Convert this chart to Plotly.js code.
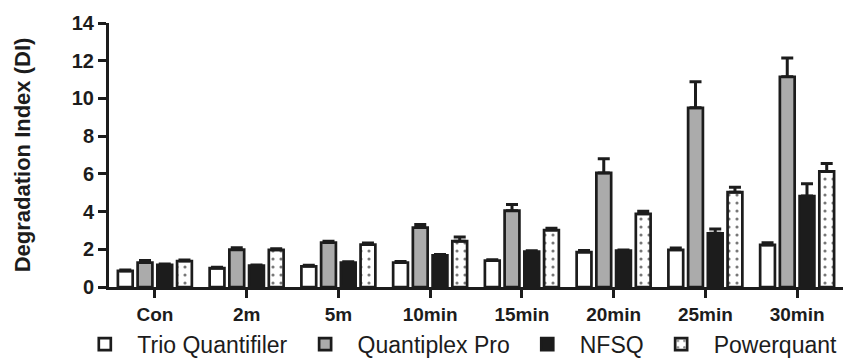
<!DOCTYPE html>
<html>
<head>
<meta charset="utf-8">
<script src="https://cdn.plot.ly/plotly-3.0.1.min.js"></script>
<style>html,body{margin:0;padding:0;background:#fff;}#chart{width:860px;height:358px;}</style>
</head>
<body>
<div id="chart"></div>
<script>
const categories = ["Con", "2m", "5m", "10min", "15min", "20min", "25min", "30min"];
const seriesNames = ["Trio Quantifiler", "Quantiplex Pro", "NFSQ", "Powerquant"];
const trioValues = [0.85, 1.0, 1.1, 1.3, 1.4, 1.85, 1.97, 2.23];
const trioErrors = [0.05, 0.05, 0.05, 0.05, 0.04, 0.08, 0.10, 0.12];
const quantiplexValues = [1.3, 1.98, 2.36, 3.15, 4.05, 6.05, 9.5, 11.15];
const quantiplexErrors = [0.10, 0.10, 0.06, 0.16, 0.32, 0.75, 1.38, 1.0];
const nfsqValues = [1.18, 1.13, 1.3, 1.68, 1.88, 1.93, 2.85, 4.82];
const nfsqErrors = [0.04, 0.04, 0.04, 0.04, 0.04, 0.03, 0.23, 0.65];
const powerquantValues = [1.38, 1.97, 2.25, 2.43, 3.02, 3.88, 5.03, 6.13];
const powerquantErrors = [0.05, 0.06, 0.08, 0.22, 0.10, 0.14, 0.26, 0.42];
const yTickValues = [0, 2, 4, 6, 8, 10, 12, 14];

const ink = '#1c1c1c';
const font = 'Arial, "Liberation Sans", sans-serif';
const zeros = categories.map(() => 0);

function barTrace(name, y, err, marker) {
  return {
    type: 'bar', name: name, x: categories, y: y,
    marker: Object.assign({line: {color: ink, width: 2.7}}, marker),
    error_y: {type: 'data', symmetric: false, array: err, arrayminus: zeros,
              color: ink, thickness: 3, width: 6},
    hoverinfo: 'x+y+name'
  };
}

const data = [
  barTrace(seriesNames[0], trioValues, trioErrors, {color: '#ffffff'}),
  barTrace(seriesNames[1], quantiplexValues, quantiplexErrors, {color: '#ababab'}),
  barTrace(seriesNames[2], nfsqValues, nfsqErrors, {color: '#1c1c1c'}),
  barTrace(seriesNames[3], powerquantValues, powerquantErrors,
    {color: '#ffffff', pattern: {shape: '.', bgcolor: '#ffffff', fgcolor: '#777777', size: 8, solidity: 0.12}})
];

const layout = {
  width: 860, height: 358,
  margin: {l: 109, r: 17, t: 23, b: 71, autoexpand: false},
  paper_bgcolor: '#ffffff', plot_bgcolor: '#ffffff',
  barmode: 'group', bargap: 0.14, bargroupgap: 0.25,
  font: {family: font, color: ink},
  showlegend: true,
  legend: {orientation: 'h', x: -0.05, xanchor: 'left', y: -0.135, yanchor: 'top',
           bgcolor: 'rgba(0,0,0,0)',
           font: {family: font, size: 23, color: ink}, itemwidth: 55, traceorder: 'normal'},
  xaxis: {
    type: 'category', range: [-0.5, 7.5],
    showline: true, linecolor: ink, linewidth: 3,
    ticks: 'outside', ticklen: 8, tickwidth: 3, tickcolor: ink,
    tickfont: {family: font, size: 19, color: ink, weight: 'bold'},
    showgrid: false, zeroline: false, automargin: false
  },
  yaxis: {
    range: [0, 14], tickvals: yTickValues, ticktext: yTickValues.map(String),
    showline: true, linecolor: ink, linewidth: 3,
    ticks: 'outside', ticklen: 8, tickwidth: 3, tickcolor: ink,
    tickfont: {family: font, size: 20, color: ink, weight: 'bold'},
    showgrid: false, zeroline: false, automargin: false,
    title: {text: 'Degradation Index (DI)', font: {family: font, size: 22, color: ink, weight: 'bold'}, standoff: 36}
  }
};

Plotly.newPlot('chart', data, layout, {displayModeBar: false, staticPlot: true});
</script>
</body>
</html>
